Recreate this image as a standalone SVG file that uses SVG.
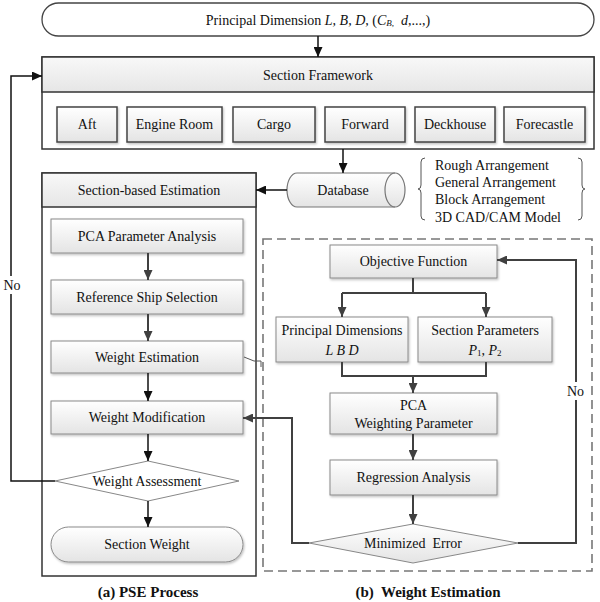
<svg xmlns="http://www.w3.org/2000/svg" width="600" height="602" viewBox="0 0 600 602">
<defs>
<linearGradient id="g" x1="0" y1="0" x2="0" y2="1"><stop offset="0" stop-color="#ffffff"/><stop offset="1" stop-color="#e4e4e4"/></linearGradient>
<linearGradient id="gh" x1="0" y1="0" x2="0" y2="1"><stop offset="0" stop-color="#f8f8f8"/><stop offset="1" stop-color="#e6e6e6"/></linearGradient>
<marker id="a" markerUnits="userSpaceOnUse" markerWidth="10" markerHeight="9" refX="10" refY="4.5" orient="auto"><path d="M0,0 L10,4.5 L0,9 z" fill="#111"/></marker>
<marker id="ag" markerUnits="userSpaceOnUse" markerWidth="10" markerHeight="9" refX="10" refY="4.5" orient="auto"><path d="M0,0 L10,4.5 L0,9 z" fill="#404040"/></marker>
<filter id="sh" x="-10%" y="-10%" width="120%" height="130%"><feDropShadow dx="1" dy="1.5" stdDeviation="0.8" flood-color="#000" flood-opacity="0.25"/></filter>
</defs>
<style>
text{font-family:"Liberation Serif","Times New Roman",serif;font-size:14px;fill:#111;text-anchor:middle;dominant-baseline:central}
.box{fill:url(#g);stroke:#8a8a8a;stroke-width:1;filter:url(#sh)}
.sbox{fill:url(#g);stroke:#444;stroke-width:1.5;filter:url(#sh)}
.frame{fill:#fff;stroke:#333;stroke-width:1.5}
.hdr{fill:url(#gh);stroke:#333;stroke-width:1.5}
.c{fill:none;stroke:#111;stroke-width:1.5}
.cg{fill:none;stroke:#404040;stroke-width:2}
.cap{font-weight:bold;font-size:15px}
.it{font-style:italic}
.lt{text-anchor:start}
</style>

<g id="principal-dimension">
<rect x="42" y="3" width="552" height="33" rx="16.5" fill="#fff" stroke="#444" stroke-width="1.3"/>
<text x="318" y="20" font-size="14.5" xml:space="preserve">Principal Dimension <tspan class="it">L, B, D, </tspan>(<tspan class="it">C</tspan><tspan class="it" font-size="9" dy="3">B,</tspan><tspan dy="-3">  </tspan><tspan class="it">d</tspan>,...,)</text>
</g>

<g id="section-framework">
<rect class="frame" x="42" y="57" width="552" height="92"/>
<rect class="hdr" x="42" y="57" width="552" height="35"/>
<text x="318" y="75">Section Framework</text>
</g>
<g id="aft"><rect class="sbox" x="57" y="107" width="60" height="35"/><text x="87" y="124.5">Aft</text></g>
<g id="engine-room"><rect class="sbox" x="127" y="107" width="95" height="35"/><text x="174.5" y="124.5">Engine Room</text></g>
<g id="cargo"><rect class="sbox" x="233" y="107" width="82" height="35"/><text x="274" y="124.5">Cargo</text></g>
<g id="forward"><rect class="sbox" x="325" y="107" width="80" height="35"/><text x="365" y="124.5">Forward</text></g>
<g id="deckhouse"><rect class="sbox" x="415" y="107" width="80" height="35"/><text x="455" y="124.5">Deckhouse</text></g>
<g id="forecastle"><rect class="sbox" x="504" y="107" width="81" height="35"/><text x="544.5" y="124.5">Forecastle</text></g>

<g id="database">
<path d="M297,173 H395 A10,17 0 0 1 395,207 H297 A10,17 0 0 1 297,173 Z" fill="url(#g)" stroke="#777" stroke-width="1.2"/>
<path d="M395,173 A10,17 0 0 0 395,207" fill="none" stroke="#777" stroke-width="1.2"/>
<text x="343" y="190">Database</text>
</g>

<g id="arrangements">
<path d="M425,158 Q421,158 421,162 V185 Q421,189 418,189 Q421,189 421,193 V216 Q421,220 425,220" fill="none" stroke="#555" stroke-width="1"/>
<path d="M578,158 Q582,158 582,162 V185 Q582,189 585,189 Q582,189 582,193 V216 Q582,220 578,220" fill="none" stroke="#555" stroke-width="1"/>
<text class="lt" x="435" y="165">Rough Arrangement</text>
<text class="lt" x="435" y="182">General Arrangement</text>
<text class="lt" x="435" y="199">Block Arrangement</text>
<text class="lt" x="435" y="217">3D CAD/CAM Model</text>
</g>

<g id="section-based-estimation">
<rect class="frame" x="42" y="173" width="214" height="403"/>
<rect class="hdr" x="42" y="173" width="214" height="34"/>
<text x="149" y="190">Section-based Estimation</text>
</g>
<g id="pca-parameter-analysis"><rect class="box" x="51" y="219" width="192" height="34"/><text x="147" y="236">PCA Parameter Analysis</text></g>
<g id="reference-ship-selection"><rect class="box" x="51" y="280" width="192" height="34"/><text x="147" y="297">Reference Ship Selection</text></g>
<g id="weight-estimation"><rect class="box" x="51" y="341" width="192" height="32"/><text x="147" y="357">Weight Estimation</text></g>
<g id="weight-modification"><rect class="box" x="51" y="401" width="192" height="33"/><text x="147" y="417.5">Weight Modification</text></g>
<g id="weight-assessment"><polygon points="55,481 148,461 239,481 148,501" fill="#fff" stroke="#888" stroke-width="1"/><text x="147" y="481">Weight Assessment</text></g>
<g id="section-weight"><rect class="box" x="51" y="527" width="192" height="35" rx="17.5"/><text x="147" y="544.5">Section Weight</text></g>

<g id="weight-estimation-panel">
<rect x="263" y="239" width="329" height="332" fill="none" stroke="#777" stroke-width="1.6" stroke-dasharray="9,5"/>
</g>
<g id="objective-function"><rect class="box" x="330" y="245" width="167" height="33"/><text x="413.5" y="261.5">Objective Function</text></g>
<g id="principal-dimensions"><rect class="box" x="276" y="317" width="132" height="45"/><text x="342" y="330">Principal Dimensions</text><text class="it" x="342" y="350">L B D</text></g>
<g id="section-parameters"><rect class="box" x="418" y="317" width="134" height="45"/><text x="485" y="330">Section Parameters</text><text x="485" y="350"><tspan class="it">P</tspan><tspan font-size="9" dy="3">1</tspan><tspan dy="-3">, </tspan><tspan class="it">P</tspan><tspan font-size="9" dy="3">2</tspan></text></g>
<g id="pca-weighting-parameter"><rect class="box" x="330" y="393" width="167" height="41"/><text x="413.5" y="405">PCA</text><text x="413.5" y="423">Weighting Parameter</text></g>
<g id="regression-analysis"><rect class="box" x="330" y="460" width="167" height="35"/><text x="413.5" y="477.5">Regression Analysis</text></g>
<g id="minimized-error"><polygon points="309,543 413,524 518,543 413,563" fill="url(#g)" stroke="#888" stroke-width="1"/><text x="413" y="543" xml:space="preserve">Minimized  Error</text></g>

<g id="connectors">
<path class="c" d="M318,36 V57" marker-end="url(#a)"/>
<path class="c" d="M343,149 V173" marker-end="url(#a)"/>
<path class="c" d="M287,190 H256" marker-end="url(#a)"/>
<path class="cg" d="M148,253 V280" marker-end="url(#ag)"/>
<path class="cg" d="M148,314 V341" marker-end="url(#ag)"/>
<path class="c" d="M148,373 V401" marker-end="url(#a)"/>
<path class="c" d="M148,434 V461" marker-end="url(#a)"/>
<path class="c" d="M148,501 V527" marker-end="url(#a)"/>
<path class="c" d="M55,481 H11 V76 H42" marker-end="url(#a)"/>
<path class="cg" d="M413,278 V293 M342,293 H486"/>
<path class="cg" d="M342,293 V317" marker-end="url(#ag)"/>
<path class="cg" d="M486,293 V317" marker-end="url(#ag)"/>
<path class="cg" d="M342,362 V376 H486 V362"/>
<path class="cg" d="M413,376 V393" marker-end="url(#ag)"/>
<path class="cg" d="M413,434 V460" marker-end="url(#ag)"/>
<path class="cg" d="M413,495 V524" marker-end="url(#ag)"/>
<path class="cg" d="M518,543 H576 V260 H497" marker-end="url(#ag)"/>
<path class="cg" d="M309,543 H292 V418 H243" marker-end="url(#ag)"/>
<path fill="none" stroke="#555" stroke-width="1" d="M244,357 L254,361 H261 V367"/>
</g>

<g id="labels">
<rect x="3" y="276" width="18" height="18" fill="#fff"/>
<text x="12" y="285">No</text>
<rect x="566" y="382" width="19" height="18" fill="#fff"/>
<text x="575.5" y="391">No</text>
<text class="cap" x="148" y="592">(a) PSE Process</text>
<text class="cap" x="428" y="592" xml:space="preserve">(b)  Weight Estimation</text>
</g>
</svg>
